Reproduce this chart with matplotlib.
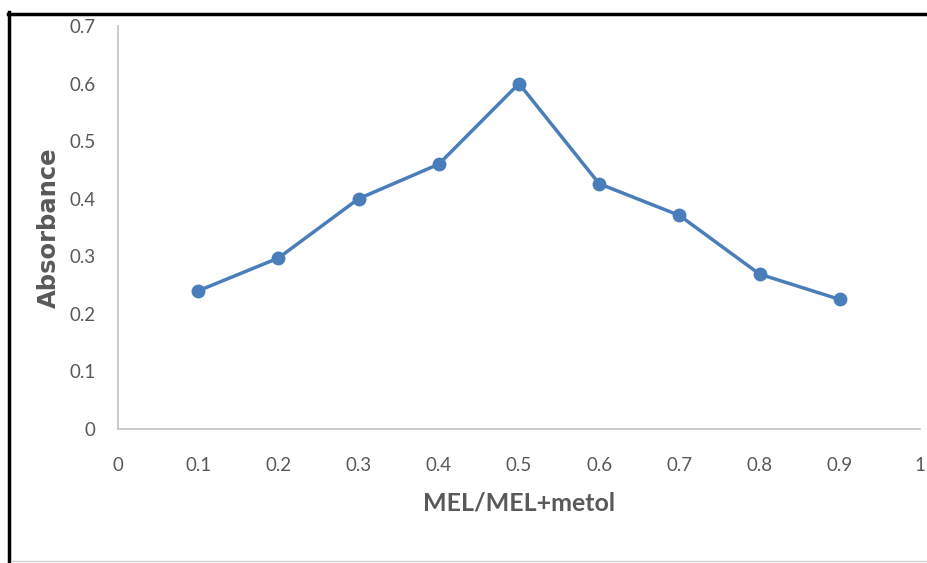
import matplotlib
matplotlib.use("Agg")
import matplotlib.pyplot as plt
from matplotlib.lines import Line2D

ratio = [0.1, 0.2, 0.3, 0.4, 0.5, 0.6, 0.7, 0.8, 0.9]
absorbance = [0.24, 0.297, 0.40, 0.46, 0.60, 0.426, 0.371, 0.269, 0.225]
xticks = [0, 0.1, 0.2, 0.3, 0.4, 0.5, 0.6, 0.7, 0.8, 0.9, 1]
xticklabels = ["0", "0.1", "0.2", "0.3", "0.4", "0.5", "0.6", "0.7", "0.8", "0.9", "1"]
yticks = [0, 0.1, 0.2, 0.3, 0.4, 0.5, 0.6, 0.7]
yticklabels = ["0", "0.1", "0.2", "0.3", "0.4", "0.5", "0.6", "0.7"]

plt.rcParams['font.family'] = ['Lato', 'DejaVu Sans']

W, H = 928, 563
fig = plt.figure(figsize=(W / 100, H / 100), dpi=100)
ax = fig.add_axes([118 / W, 1 - 429 / H, (920 - 118) / W, (429 - 26) / H])

ax.plot(ratio, absorbance, color="#4a7ebb", linewidth=2.5, marker="o",
        markersize=10, markeredgewidth=0, solid_capstyle="round")

ax.set_xlim(0, 1)
ax.set_ylim(0, 0.7)
ax.set_xticks(xticks)
ax.set_xticklabels(xticklabels)
ax.set_yticks(yticks)
ax.set_yticklabels(yticklabels)
ax.tick_params(axis="both", length=0, labelsize=13.5, labelcolor="#595959")
ax.tick_params(axis="x", pad=20)
ax.tick_params(axis="y", pad=16)
for s in ["top", "right"]:
    ax.spines[s].set_visible(False)
for s in ["left", "bottom"]:
    ax.spines[s].set_color("#c8c8c8")
    ax.spines[s].set_linewidth(1.3)

ax.set_xlabel("MEL/MEL+metol", fontsize=18, fontweight="bold", color="#595959", labelpad=13)
ax.set_ylabel("Absorbance", fontsize=17.5, fontweight="bold", color="#595959", labelpad=6,
              family=["DejaVu Sans"])

# frame lines around the picture
fig.add_artist(Line2D([9.5 / W, 9.5 / W], [0, 1 - 12 / H], transform=fig.transFigure,
                      color="black", linewidth=2.5))
fig.add_artist(Line2D([8 / W, 1], [1 - 13.5 / H, 1 - 13.5 / H], transform=fig.transFigure,
                      color="black", linewidth=2.5))
fig.add_artist(Line2D([11 / W, 1], [1 - 561 / H, 1 - 561 / H], transform=fig.transFigure,
                      color="#d0d0d0", linewidth=1))

fig.savefig("out.png", dpi=100)
